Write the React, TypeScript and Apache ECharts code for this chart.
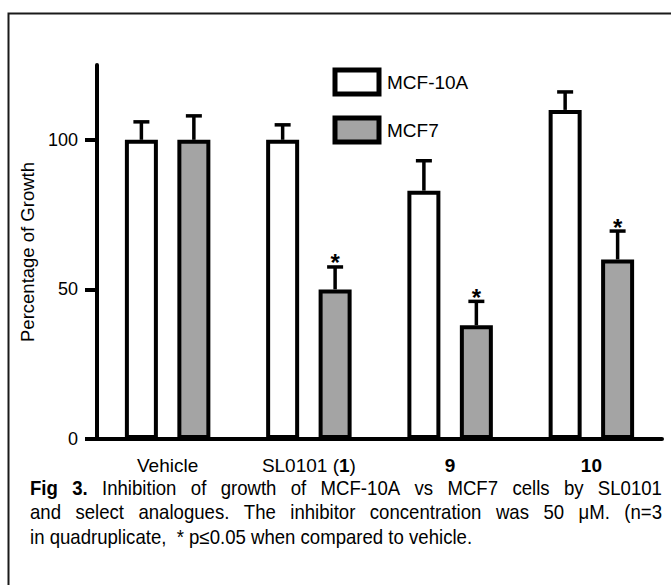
import React, { useEffect, useRef } from "react";
import * as echarts from "echarts";

const categories = ["Vehicle", "SL0101 (1)", "9", "10"];
const seriesNames = ["MCF-10A", "MCF7"];
const mcf10a = [100, 100, 83, 110];
const mcf10aSem = [6, 5, 10, 6];
const mcf10aSignificant = [0, 0, 0, 0];
const mcf7 = [100, 50, 38, 60];
const mcf7Sem = [8, 7.5, 8, 9.5];
const mcf7Significant = [0, 1, 1, 1];
const yTicks = [0, 50, 100];
const captionBoldWords = ["Fig", "3."];
const captionLines = [
  "Fig 3. Inhibition of growth of MCF-10A vs MCF7 cells by SL0101",
  "and select analogues. The inhibitor concentration was 50 \u03bcM. (n=3",
  "in quadruplicate,  * p\u22640.05 when compared to vehicle.",
];
const captionJustified = [true, true, false];

const FONT = "'Liberation Sans', Arial, Helvetica, sans-serif";
const CAP_SIZE = 20;
const CAP_SCALE_X = 0.93;
const CAP_LEFT = 30;
const CAP_RIGHT = 662;
const BAR_W = 33;
const GAP_RATIO = 0.59;
const OFFSET = (BAR_W * (1 + GAP_RATIO)) / 2;

function measure(text: string, bold: boolean): number {
  const ctx = document.createElement("canvas").getContext("2d");
  if (!ctx) return text.length * CAP_SIZE * 0.5 * CAP_SCALE_X;
  ctx.font = (bold ? "bold " : "") + CAP_SIZE + "px " + FONT;
  return ctx.measureText(text).width * CAP_SCALE_X;
}

function captionGraphics(): any[] {
  const out: any[] = [];
  captionLines.forEach((line, li) => {
    const y = 488 + li * 24.5;
    if (!captionJustified[li]) {
      out.push({
        type: "text",
        silent: true,
        x: CAP_LEFT,
        y,
        scaleX: CAP_SCALE_X,
        style: { text: line, fill: "#000", fontSize: CAP_SIZE, fontFamily: FONT, verticalAlign: "middle", align: "left" },
      });
      return;
    }
    const words = line.split(" ");
    const bolds = words.map((w, wi) => li === 0 && wi < captionBoldWords.length && captionBoldWords[wi] === w);
    const widths = words.map((w, wi) => measure(w, bolds[wi]));
    const total = widths.reduce((a, b) => a + b, 0);
    const gap = (CAP_RIGHT - CAP_LEFT - total) / (words.length - 1);
    let x = CAP_LEFT;
    words.forEach((w, wi) => {
      out.push({
        type: "text",
        silent: true,
        x,
        y,
        scaleX: CAP_SCALE_X,
        style: {
          text: w,
          fill: "#000",
          fontSize: CAP_SIZE,
          fontWeight: bolds[wi] ? "bold" : "normal",
          fontFamily: FONT,
          verticalAlign: "middle",
          align: "left",
        },
      });
      x += widths[wi] + gap;
    });
  });
  return out;
}

function errorSeries(values: number[], sem: number[], sig: number[], dir: number) {
  return {
    type: "custom",
    z: 5,
    silent: true,
    encode: { x: 0, y: [1, 2] },
    data: values.map((v, i) => [i, v, v + sem[i], sig[i]]),
    renderItem: (params: any, api: any) => {
      const cat = api.value(0);
      const v = api.value(1);
      const top = api.value(2);
      const s = api.value(3);
      const base = api.coord([cat, v]);
      const end = api.coord([cat, top]);
      const x = base[0] + dir * OFFSET;
      const children: any[] = [
        {
          type: "line",
          shape: { x1: x, y1: base[1], x2: x, y2: end[1] },
          style: { stroke: "#000", lineWidth: 3.5 },
        },
        {
          type: "line",
          shape: { x1: x - 8, y1: end[1], x2: x + 8, y2: end[1] },
          style: { stroke: "#000", lineWidth: 3.5 },
        },
      ];
      if (s) {
        children.push({
          type: "text",
          x: x,
          y: end[1] - 4,
          style: {
            text: "*",
            fill: "#000",
            fontSize: 24,
            fontWeight: "bold",
            fontFamily: FONT,
            align: "center",
            verticalAlign: "middle",
          },
        });
      }
      return { type: "group", children };
    },
  };
}

export default function App() {
  const ref = useRef<HTMLDivElement>(null);
  useEffect(() => {
    if (!ref.current) return;
    const chart = echarts.init(ref.current, undefined, { renderer: "svg" });
    const option: any = {
      animation: false,
      backgroundColor: "#fff",
      textStyle: { fontFamily: FONT, color: "#000" },
      grid: { left: 97, right: 9, top: 65, bottom: 146 },
      legend: {
        orient: "vertical",
        left: 332.5,
        top: 67.5,
        padding: 0,
        itemWidth: 44,
        itemHeight: 24,
        itemGap: 19,
        icon: "rect",
        itemStyle: { borderColor: "#000", borderWidth: 5 },
        textStyle: { fontSize: 19, color: "#000", fontFamily: FONT, padding: [0, 0, 0, 3] },
        data: seriesNames,
        selectedMode: false,
      },
      xAxis: {
        type: "category",
        data: categories,
        boundaryGap: true,
        axisLine: { lineStyle: { color: "#000", width: 4 } },
        axisTick: { alignWithLabel: true, length: 12, lineStyle: { color: "#000", width: 4 } },
        axisLabel: {
          interval: 0,
          fontSize: 19,
          color: "#000",
          margin: 17,
          fontFamily: FONT,
          formatter: (v: string) => {
            if (v === "Vehicle") return v;
            if (v === "SL0101 (1)") return "SL0101 ({b|1})";
            return "{b|" + v + "}";
          },
          rich: { b: { fontWeight: "bold", fontSize: 19, fontFamily: FONT, color: "#000" } },
        },
        splitLine: { show: false },
      },
      yAxis: {
        type: "value",
        min: 0,
        max: 125,
        interval: 50,
        name: "Percentage of Growth",
        nameLocation: "middle",
        nameGap: 60,
        nameTextStyle: { fontSize: 18.5, color: "#000", fontFamily: FONT },
        axisLine: { show: true, lineStyle: { color: "#000", width: 4 } },
        axisTick: { show: true, length: 12, customValues: yTicks, lineStyle: { color: "#000", width: 4 } },
        axisLabel: { customValues: yTicks, fontSize: 18, color: "#000", margin: 19, fontFamily: FONT },
        splitLine: { show: false },
      },
      series: [
        {
          name: seriesNames[0],
          type: "bar",
          data: mcf10a,
          barWidth: BAR_W,
          barGap: GAP_RATIO * 100 + "%",
          itemStyle: { color: "#ffffff", borderColor: "#000", borderWidth: 4 },
        },
        {
          name: seriesNames[1],
          type: "bar",
          data: mcf7,
          barWidth: BAR_W,
          barGap: GAP_RATIO * 100 + "%",
          itemStyle: { color: "#a4a4a4", borderColor: "#000", borderWidth: 4 },
        },
        errorSeries(mcf10a, mcf10aSem, mcf10aSignificant, -1),
        errorSeries(mcf7, mcf7Sem, mcf7Significant, 1),
      ],
      graphic: [
        {
          type: "rect",
          silent: true,
          shape: { x: 8.5, y: 13.5, width: 800, height: 800 },
          style: { fill: "none", stroke: "#1a1a1a", lineWidth: 2 },
        },
        ...captionGraphics(),
      ],
    };
    chart.setOption(option);
    return () => chart.dispose();
  }, []);
  return <div ref={ref} style={{ position: "fixed", left: 0, top: 0, width: 671, height: 585 }} />;
}
